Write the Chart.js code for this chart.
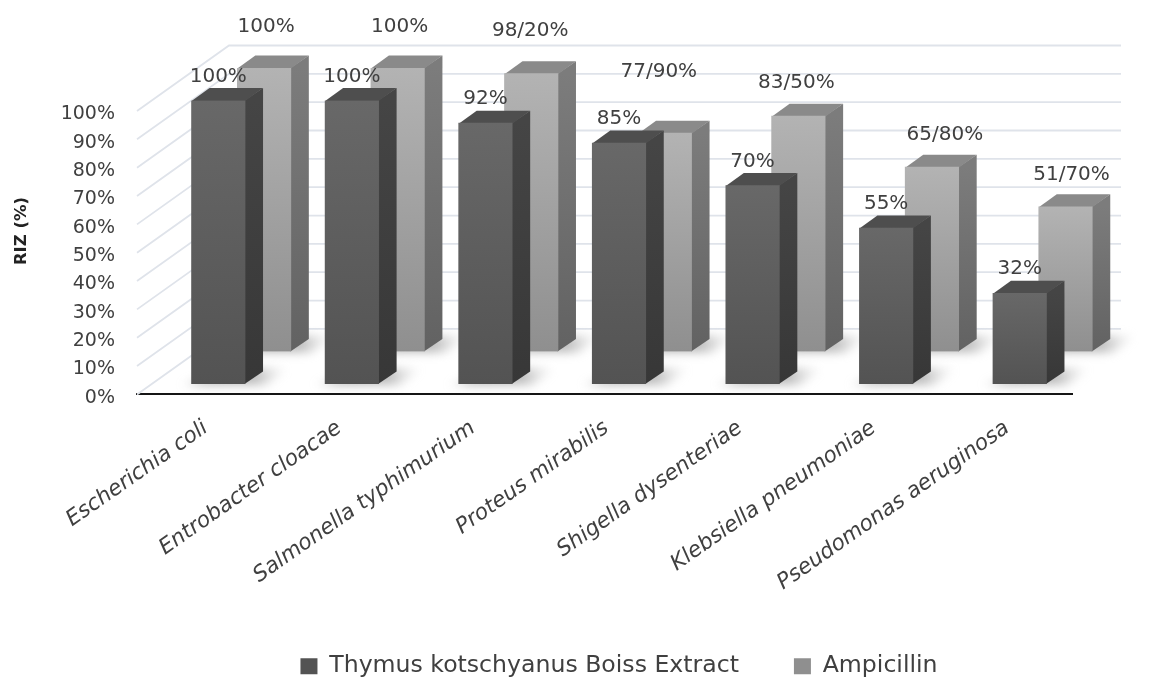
<!DOCTYPE html>
<html><head><meta charset="utf-8">
<style>html,body{margin:0;padding:0;background:#fff}canvas{display:block}</style>
<script src="https://cdn.jsdelivr.net/npm/chart.js@4"></script>
</head><body><canvas id="c" width="1151" height="677"></canvas>
<script>
const categories = ["Escherichia coli","Entrobacter cloacae","Salmonella typhimurium","Proteus mirabilis","Shigella dysenteriae","Klebsiella pneumoniae","Pseudomonas aeruginosa"];
const thymus = [100,100,92,85,70,55,32];
const ampicillin = [100,100,98,77,83,65,51];
const thymusLabels = ["100%","100%","92%","85%","70%","55%","32%"];
const ampicillinLabels = ["100%","100%","98/20%","77/90%","83/50%","65/80%","51/70%"];
const ampLabelNudgeX = [2,2,-1,-6,-2,13,6];
const ampLabelNudgeY = [-41,-41,-43,-61,-33,-32,-32];
const axisTitle = 'RIZ (%)';

const FONT = '"DejaVu Sans", sans-serif';
const TXT = '#404040';
const DEPTH = {x:18, y:-12.5};
const PLANE = [{x:14.5,y:-10.5},{x:60.3,y:-43}];
const COL = [
 {solid:'#5a5a5a',a:'#686868',b:'#535353',top:'#4e4e4e',s1:'#454545',s2:'#373737'},
 {solid:'#a8a8a8',a:'#b3b3b3',b:'#8f8f8f',top:'#8a8a8a',s1:'#7c7c7c',s2:'#626262'}
];
const WALL = {x:92,y:-65.5,right:1121};

function faceFill(i){
  return function(ctx){
    const c = COL[i];
    if(ctx.type!=='data'||!ctx.chart.scales.y) return c.solid;
    const y = ctx.chart.scales.y;
    const y0=y.getPixelForValue(ctx.raw), y1=y.getPixelForValue(0);
    if(!isFinite(y0)||!isFinite(y1)) return c.solid;
    const g = ctx.chart.ctx.createLinearGradient(0,y0,0,y1);
    g.addColorStop(0,c.a); g.addColorStop(1,c.b);
    return g;
  };
}
function poly(c,p){c.beginPath();p.forEach((q,k)=>k?c.lineTo(q[0],q[1]):c.moveTo(q[0],q[1]));c.closePath();c.fill();}

const bars3d = {
 id:'bars3d',
 afterLayout(chart){ chart.legend.left+=83; chart.legend.right+=83; },
 beforeDatasetsDraw(chart){
  const c=chart.ctx,y=chart.scales.y,a=chart.chartArea;
  c.save();
  c.strokeStyle='#dfe3ea';c.lineWidth=1.8;
  y.ticks.forEach(t=>{
    const p=y.getPixelForValue(t.value);
    c.beginPath();c.moveTo(a.left,p);c.lineTo(a.left+WALL.x,p+WALL.y);c.lineTo(WALL.right,p+WALL.y);c.stroke();
  });
  c.restore();
 },
 beforeDatasetDraw(chart,args){
  const c=chart.ctx,i=args.index,col=COL[i];
  c.save();
  c.translate(PLANE[i].x,PLANE[i].y);
  args.meta.data.forEach(b=>{
    const l=b.x-b.width/2,r=b.x+b.width/2,t=b.y,z=b.base;
    c.save();
    c.filter='blur(5px)';
    const sg=c.createLinearGradient(l-14,0,r+42,0);
    sg.addColorStop(0,'rgba(170,170,170,0)');sg.addColorStop(.2,'rgba(150,150,150,.7)');
    sg.addColorStop(.7,'rgba(160,160,160,.7)');sg.addColorStop(1,'rgba(190,190,190,0)');
    c.fillStyle=sg;
    poly(c,[[l-12,z+1],[r+20,z+1],[r+46,z-16],[r,z-16]]);
    c.restore();
    const g=c.createLinearGradient(0,t,0,z);
    g.addColorStop(0,col.s1);g.addColorStop(1,col.s2);
    c.fillStyle=g;
    poly(c,[[r-.5,t],[r+DEPTH.x,t+DEPTH.y],[r+DEPTH.x,z+DEPTH.y],[r-.5,z]]);
    c.fillStyle=col.top;
    poly(c,[[l,t+.5],[l+DEPTH.x,t+DEPTH.y],[r+DEPTH.x,t+DEPTH.y],[r,t+.5]]);
  });
 },
 afterDatasetDraw(chart){chart.ctx.restore();},
 afterDatasetsDraw(chart){
  const c=chart.ctx;
  c.save();
  c.font='20px '+FONT;c.fillStyle=TXT;c.textAlign='center';c.textBaseline='middle';
  chart.getDatasetMeta(1).data.forEach((b,k)=>{
    c.fillText(ampicillinLabels[k],b.x+PLANE[1].x+ampLabelNudgeX[k],b.y+PLANE[1].y+ampLabelNudgeY[k]);
  });
  chart.getDatasetMeta(0).data.forEach((b,k)=>{
    c.fillText(thymusLabels[k],b.x+PLANE[0].x,b.y+PLANE[0].y-24);
  });
  c.restore();
 },
 afterDraw(chart){
  const c=chart.ctx;
  c.save();
  c.translate(22,231);c.rotate(-Math.PI/2);
  c.font='bold 16.5px '+FONT;c.fillStyle='#222';c.textAlign='center';c.textBaseline='middle';
  c.fillText(axisTitle,0,0);
  c.restore();
 }
};

new Chart(document.getElementById('c'),{
 type:'bar',
 data:{labels:categories,datasets:[
  {label:'Thymus kotschyanus Boiss Extract',data:thymus,backgroundColor:faceFill(0),borderWidth:0,grouped:false,barThickness:53.5},
  {label:'Ampicillin',data:ampicillin,backgroundColor:faceFill(1),borderWidth:0,grouped:false,barThickness:53.5}
 ]},
 plugins:[bars3d],
 options:{
  responsive:false,animation:false,devicePixelRatio:1,
  layout:{padding:{left:0,top:111,right:79,bottom:-11}},
  plugins:{
   title:{display:false},tooltip:{enabled:false},
   legend:{position:'bottom',labels:{font:{family:FONT,size:23.6},color:TXT,boxWidth:17,boxHeight:16,padding:55}}
  },
  scales:{
   x:{
    grid:{display:false},
    border:{display:true,color:'#151515',width:2},
    afterFit(s){s.height=205;},
    ticks:{font:{family:FONT,size:21.6,style:'italic'},color:TXT,minRotation:35,maxRotation:35,autoSkip:false,padding:13,labelOffset:2}
   },
   y:{
    min:0,max:100,
    grid:{display:false},border:{display:false},
    afterFit(s){s.width=137;},
    ticks:{stepSize:10,autoSkip:false,labelOffset:3.5,callback:v=>v+'%',font:{family:FONT,size:19},color:TXT,padding:14}
   }
  }
 }
});
</script></body></html>
